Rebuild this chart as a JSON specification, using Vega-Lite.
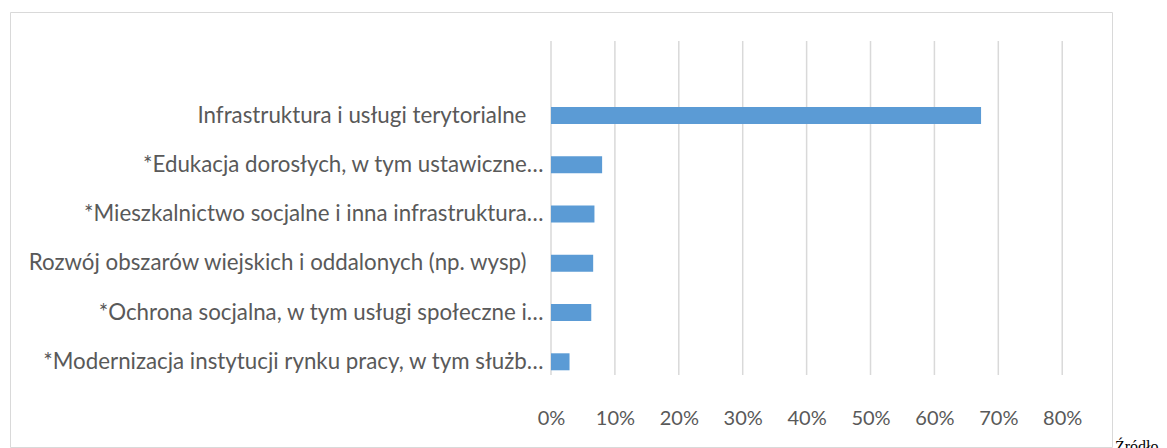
{
  "$schema": "https://vega.github.io/schema/vega-lite/v6.json",
  "width": 1102,
  "height": 435,
  "padding": {"left": 10, "top": 12, "right": 0, "bottom": 0},
  "background": "white",
  "config": {
    "view": {"stroke": "#d9d9d9", "strokeWidth": 1},
    "font": "Lato"
  },
  "title": {
    "text": "Źródło",
    "orient": "bottom",
    "anchor": "end",
    "frame": "group",
    "align": "left",
    "baseline": "alphabetic",
    "dx": 3,
    "offset": 5,
    "font": "Liberation Serif",
    "fontSize": 16,
    "fontWeight": "normal",
    "color": "#000000"
  },
  "layer": [
    {
      "data": {"values": [
        {"tick": 0}, {"tick": 0.1}, {"tick": 0.2}, {"tick": 0.3}, {"tick": 0.4},
        {"tick": 0.5}, {"tick": 0.6}, {"tick": 0.7}, {"tick": 0.8}
      ]},
      "mark": {"type": "rule", "color": "#d9d9d9", "strokeWidth": 1.5},
      "encoding": {
        "x": {"field": "tick", "type": "quantitative"},
        "y": {"datum": 0, "type": "quantitative", "scale": {"domain": [-0.2156, 1.0868], "nice": false, "zero": false}, "axis": null},
        "y2": {"datum": 1}
      }
    },
    {
      "data": {"values": [
        {"kategoria": "Infrastruktura i usługi terytorialne", "udzial": 0.673},
        {"kategoria": "*Edukacja dorosłych, w tym ustawiczne…", "udzial": 0.080},
        {"kategoria": "*Mieszkalnictwo socjalne i inna infrastruktura…", "udzial": 0.068},
        {"kategoria": "Rozwój obszarów wiejskich i oddalonych (np. wysp)", "udzial": 0.066},
        {"kategoria": "*Ochrona socjalna, w tym usługi społeczne i…", "udzial": 0.063},
        {"kategoria": "*Modernizacja instytucji rynku pracy, w tym służb…", "udzial": 0.029}
      ]},
      "mark": {"type": "bar", "color": "#5b9bd5"},
      "encoding": {
        "y": {
          "field": "kategoria",
          "type": "nominal",
          "scale": {
            "domain": [
              " ",
              "Infrastruktura i usługi terytorialne",
              "*Edukacja dorosłych, w tym ustawiczne…",
              "*Mieszkalnictwo socjalne i inna infrastruktura…",
              "Rozwój obszarów wiejskich i oddalonych (np. wysp)",
              "*Ochrona socjalna, w tym usługi społeczne i…",
              "*Modernizacja instytucji rynku pracy, w tym służb…",
              "  "
            ],
            "paddingInner": 0.655,
            "paddingOuter": 0.743,
            "align": 0.625
          },
          "axis": {
            "title": null,
            "orient": "left",
            "offset": -541,
            "labelPadding": 8,
            "ticks": false,
            "domain": false,
            "grid": false,
            "labelFont": "Lato",
            "labelFontSize": 22.3,
            "labelColor": "#595959",
            "labelLimit": 0,
            "labelExpr": "indexof(datum.label, '…') >= 0 || trim(datum.label) == '' ? datum.label : datum.label + '\u00a0\u00a0\u00a0\u200b'"
          }
        },
        "x": {
          "field": "udzial",
          "type": "quantitative",
          "scale": {"domain": [-0.8466, 0.8779], "nice": false, "zero": false},
          "axis": {
            "title": null,
            "values": [0, 0.1, 0.2, 0.3, 0.4, 0.5, 0.6, 0.7, 0.8],
            "format": ".0%",
            "offset": -61,
            "labelPadding": 22,
            "ticks": false,
            "domain": false,
            "grid": false,
            "labelFont": "Lato",
            "labelFontSize": 20,
            "labelColor": "#595959"
          }
        }
      }
    }
  ],
  "resolve": {"scale": {"y": "independent"}}
}
